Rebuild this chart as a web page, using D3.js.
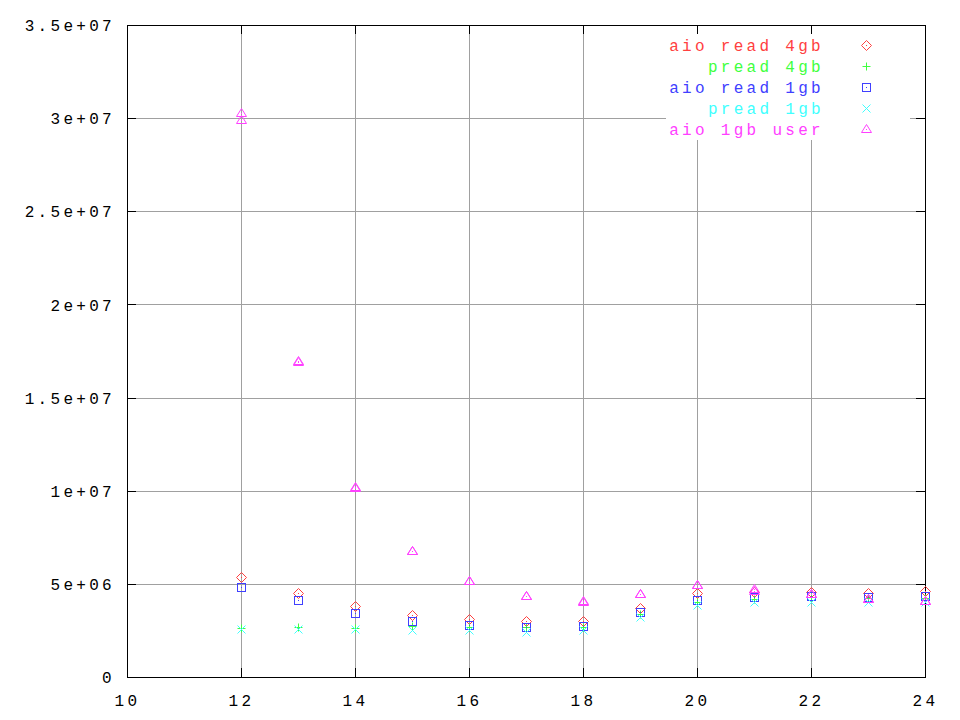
<!DOCTYPE html>
<html><head><meta charset="utf-8">
<script src="https://cdn.jsdelivr.net/npm/d3@7/dist/d3.min.js"></script>
<style>
body{margin:0;background:#fff;}
text{font-family:"Liberation Mono","DejaVu Sans Mono",monospace;font-size:16px;letter-spacing:3.3px;}
</style></head>
<body><svg id="c" width="960" height="720"></svg>
<script>
const xs = [12,13,14,15,16,17,18,19,20,21,22,23,24];
const aioRead4gb = [5.37e6,4.5e6,3.8e6,3.33e6,3.1e6,3.0e6,3.0e6,3.7e6,4.5e6,4.55e6,4.55e6,4.5e6,4.6e6];
const pread4gb   = [2.65e6,2.7e6,2.65e6,2.75e6,2.7e6,2.7e6,2.7e6,3.4e6,4.0e6,4.2e6,4.3e6,4.25e6,4.25e6];
const aioRead1gb = [4.83e6,4.13e6,3.44e6,3.0e6,2.8e6,2.7e6,2.75e6,3.5e6,4.13e6,4.3e6,4.35e6,4.3e6,4.35e6];
const pread1gb   = [2.6e6,2.6e6,2.55e6,2.5e6,2.5e6,2.4e6,2.5e6,3.2e6,3.85e6,4.0e6,4.0e6,4.0e6,4.05e6];
const aio1gbUser = [3.03e7,1.697e7,1.02e7,6.77e6,5.15e6,4.35e6,4.1e6,4.46e6,4.94e6,4.7e6,4.46e6,4.2e6,4.1e6];
const aio1gbUser2= [2.99e7,1.69e7,1.015e7,6.77e6,5.15e6,4.35e6,4.05e6,4.46e6,4.94e6,4.63e6,4.46e6,4.2e6,4.1e6];
const xTicks = [10,12,14,16,18,20,22,24];
const yTicks = [0,5e6,1e7,1.5e7,2e7,2.5e7,3e7,3.5e7];
const yLabels = ["0","5e+06","1e+07","1.5e+07","2e+07","2.5e+07","3e+07","3.5e+07"];
const names = ["aio read 4gb","pread 4gb","aio read 1gb","pread 1gb","aio 1gb user"];
const colors = ["#ff4040","#40ff40","#4040ff","#40ffff","#ff40ff"];
const shapes = ["diamond","plus","square","cross","triangle"];

const svg = d3.select("#c");
const L=127,R=925,T=25,B=677;
const x = d3.scaleLinear().domain([10,24]).range([L,R]);
const y = d3.scaleLinear().domain([0,3.5e7]).range([B,T]);

const g = svg.append("g").attr("shape-rendering","crispEdges");
g.selectAll(".gx").data(xTicks.slice(1,-1)).enter().append("line")
 .attr("x1",d=>Math.round(x(d))+0.5).attr("x2",d=>Math.round(x(d))+0.5).attr("y1",T).attr("y2",B)
 .attr("stroke","#a0a0a0");
g.selectAll(".gy").data(yTicks.slice(1,-1)).enter().append("line")
 .attr("y1",d=>Math.round(y(d))+0.5).attr("y2",d=>Math.round(y(d))+0.5).attr("x1",L).attr("x2",R)
 .attr("stroke","#a0a0a0");
g.append("rect").attr("x",666).attr("y",32).attr("width",244).attr("height",108).attr("fill","#fff");

const ax = d3.axisBottom(x).tickValues(xTicks).tickSize(0).tickFormat(d3.format("d"));
const gxA = svg.append("g").attr("transform",`translate(0,${B})`).call(ax);
gxA.select(".domain").remove();
gxA.selectAll("text").attr("dy",0).attr("y",29).attr("fill","#000").style("font-size","16px").attr("font-family",null);
const ay = d3.axisLeft(y).tickValues(yTicks).tickSize(0).tickFormat((d,i)=>yLabels[i]);
const gyA = svg.append("g").attr("transform",`translate(${L},0)`).call(ay);
gyA.select(".domain").remove();
gyA.selectAll("text").attr("x",-12).attr("dy","0.35em").attr("fill","#000").attr("font-family",null).style("font-size","16px");

const tk = svg.append("g").attr("stroke","#000").attr("shape-rendering","crispEdges");
xTicks.forEach(d=>{const px=Math.round(x(d))+0.5;
 tk.append("line").attr("x1",px).attr("x2",px).attr("y1",B).attr("y2",B-9);
 tk.append("line").attr("x1",px).attr("x2",px).attr("y1",T).attr("y2",T+9);});
yTicks.forEach(d=>{const py=Math.round(y(d))+0.5;
 tk.append("line").attr("y1",py).attr("y2",py).attr("x1",L).attr("x2",L+9);
 tk.append("line").attr("y1",py).attr("y2",py).attr("x1",R).attr("x2",R-9);});
tk.append("rect").attr("x",L+0.5).attr("y",T+0.5).attr("width",R-L).attr("height",B-T).attr("fill","none");

function sym(sel,shape,cx,cy,color){
  const gg = sel.append("g").attr("transform",`translate(${Math.round(cx)+0.5},${Math.round(cy)+0.5})`)
   .attr("stroke",color).attr("fill","none").attr("stroke-width",1);
  if(shape==="diamond") gg.append("path").attr("d","M0,-5L5,0L0,5L-5,0Z");
  if(shape==="plus") gg.append("path").attr("d","M-4,0H4M0,-4V4");
  if(shape==="square") gg.append("path").attr("d","M-4,-4H4V4H-4Z").attr("shape-rendering","crispEdges");
  if(shape==="cross") gg.append("path").attr("d","M-4,-4L4,4M4,-4L-4,4");
  if(shape==="triangle") gg.append("path").attr("d","M0,-5L5,3H-5Z");
  if(shape!=="plus"&&shape!=="cross") gg.append("rect").attr("x",-0.5).attr("y",-0.5).attr("width",1).attr("height",1).attr("fill",color).attr("stroke","none");
}

const series=[aioRead4gb,pread4gb,aioRead1gb,pread1gb,aio1gbUser];
const pts = svg.append("g");
series.forEach((s,i)=>{ s.forEach((v,j)=>sym(pts,shapes[i],x(xs[j]),y(v),colors[i])); });
aio1gbUser2.forEach((v,j)=>sym(pts,shapes[4],x(xs[j]),y(v),colors[4]));

const lg = svg.append("g");
names.forEach((n,i)=>{
  const yy = 45+i*21;
  lg.append("text").attr("x",824).attr("y",yy).attr("dy","0.35em").attr("text-anchor","end").attr("fill",colors[i]).text(n);
  sym(lg,shapes[i],866,yy,colors[i]);
});
</script></body></html>
